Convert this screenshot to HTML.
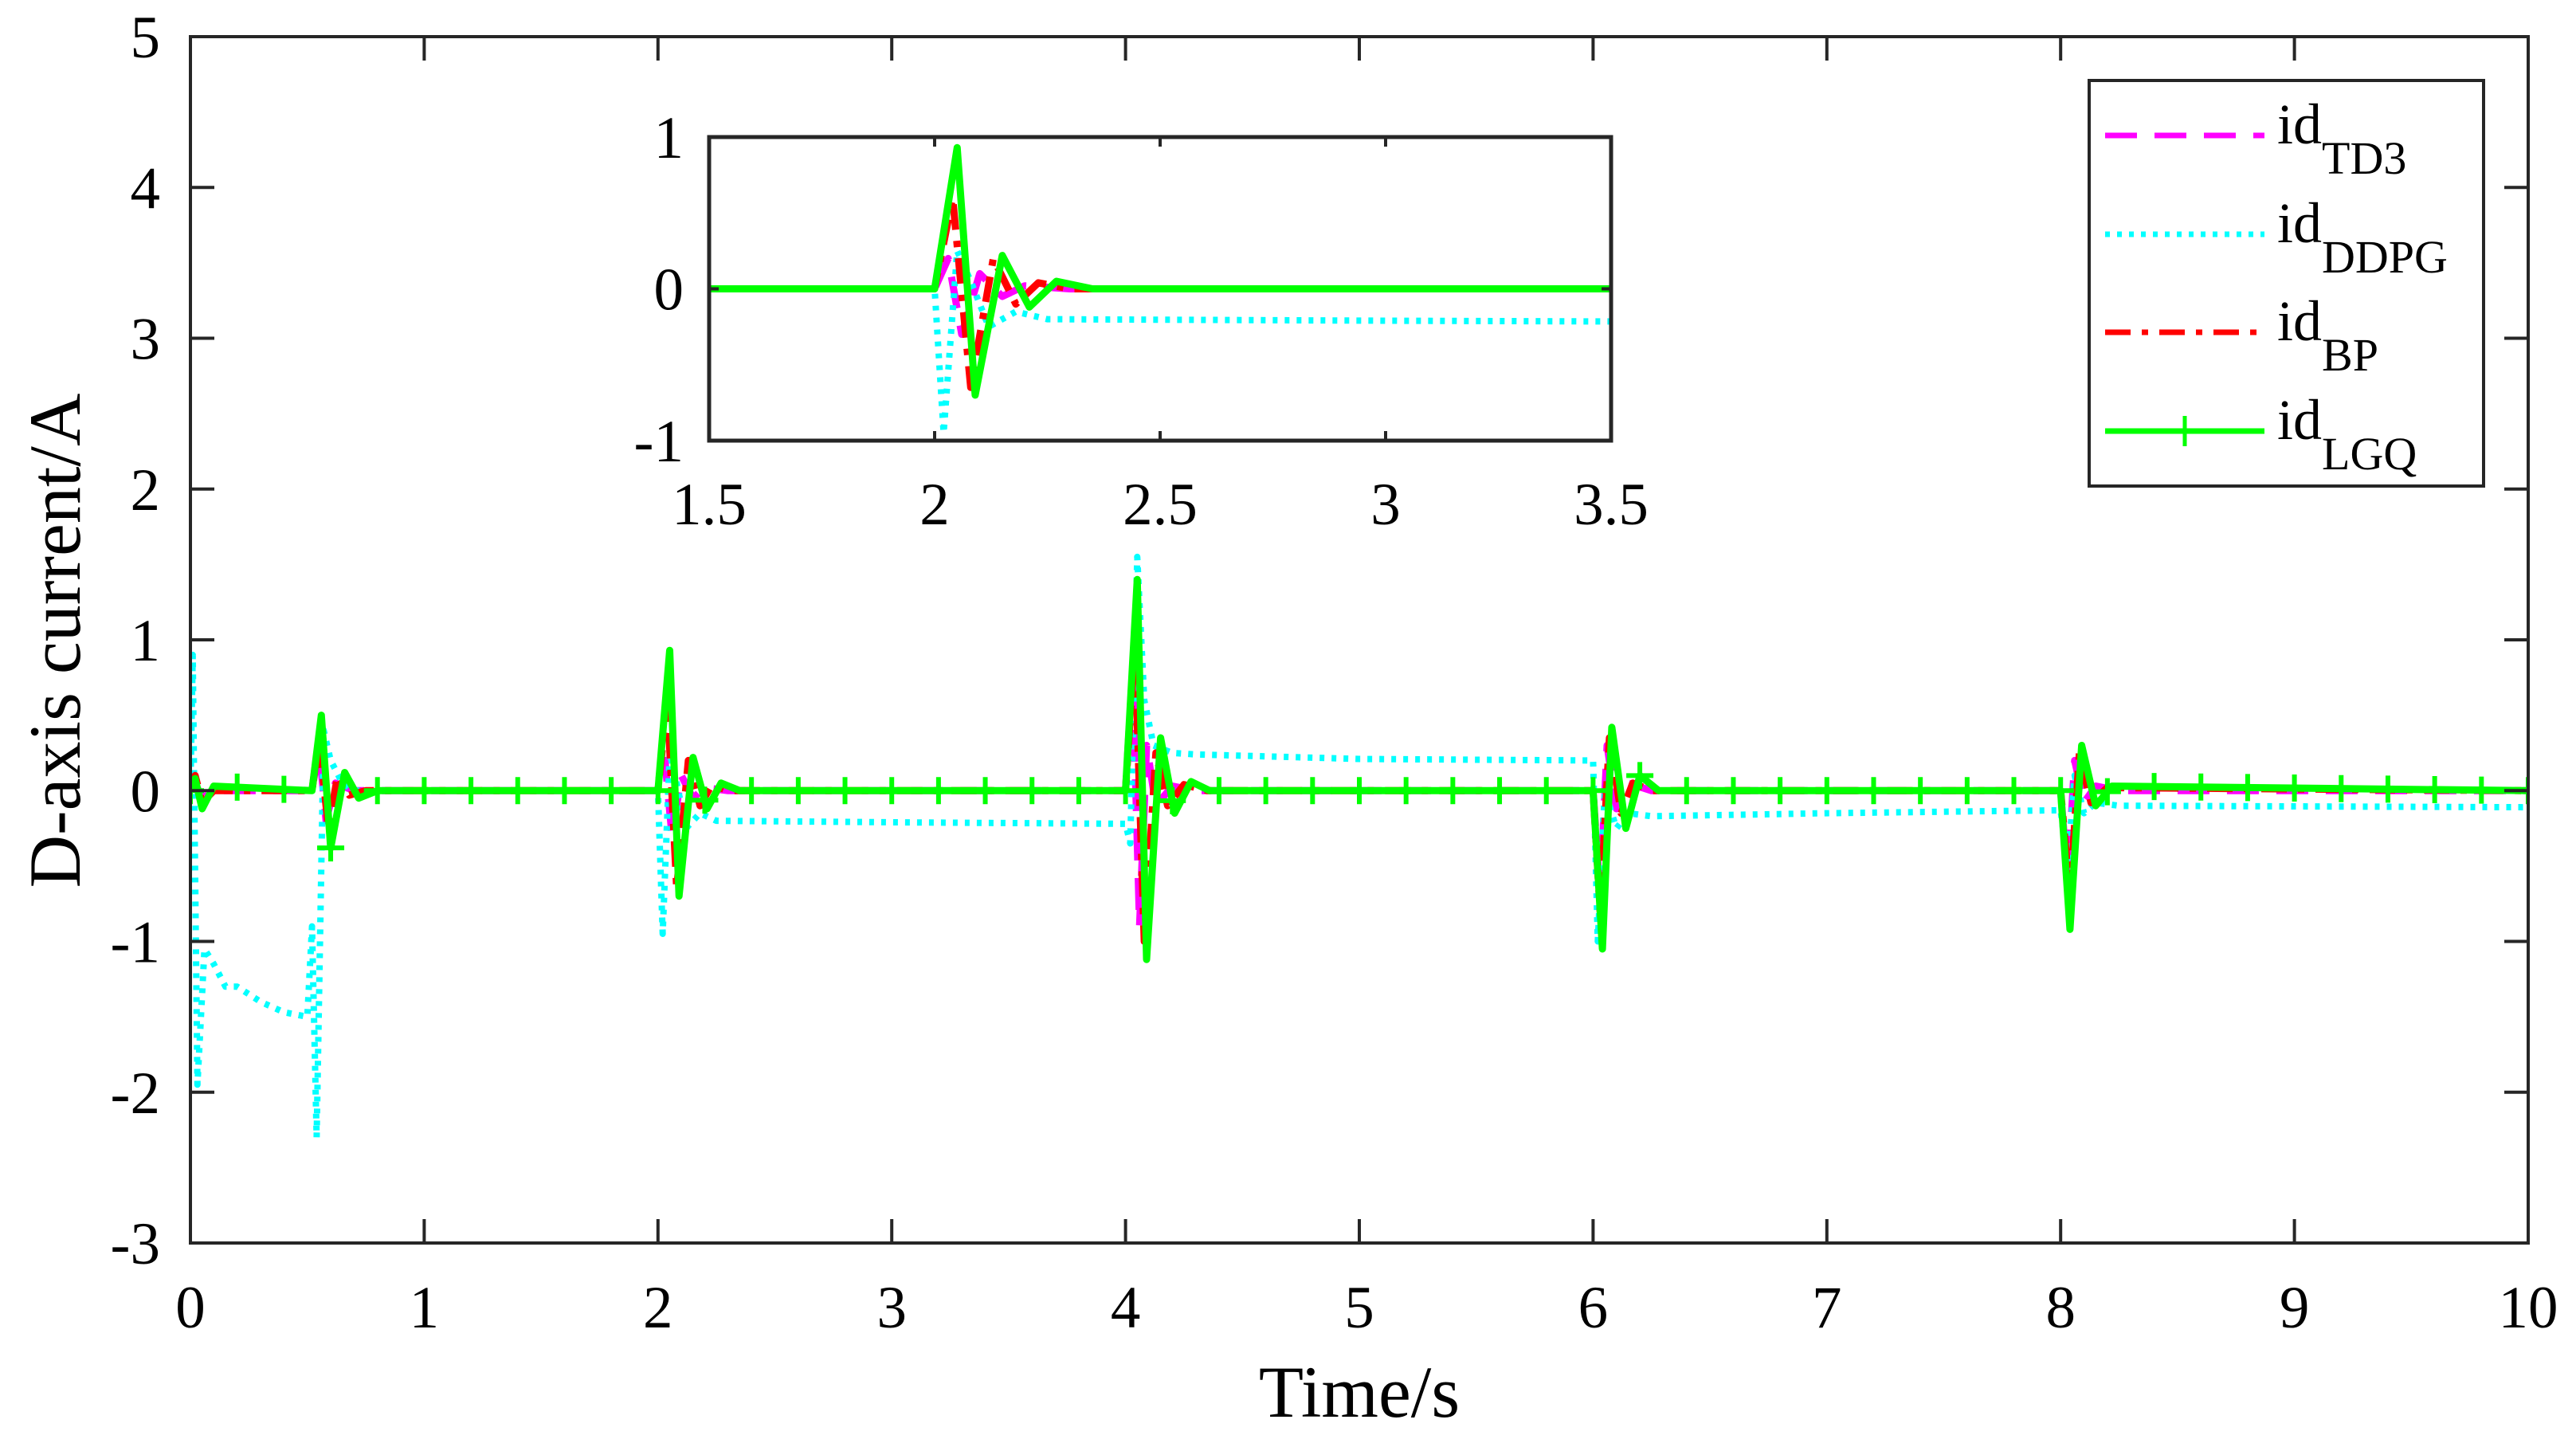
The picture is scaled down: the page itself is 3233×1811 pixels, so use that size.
<!DOCTYPE html>
<html><head><meta charset="utf-8"><style>
html,body{margin:0;padding:0;background:#fff;}
svg{display:block;}
text{font-family:"Liberation Serif",serif;}
</style></head><body>
<svg id="chart" width="3233" height="1811" viewBox="0 0 3233 1811" xmlns="http://www.w3.org/2000/svg" font-family="Liberation Serif, serif">
<rect width="3233" height="1811" fill="#fff"/>
<defs>
<clipPath id="mainClip"><rect x="239" y="46" width="2934" height="1514"/></clipPath>
<clipPath id="insetClip"><rect x="890" y="172" width="1132" height="381"/></clipPath>
</defs>
<g id="main"></g>
<g id="inset"></g>
<g id="legend"></g>
<text x="1706" y="1778" font-size="92" text-anchor="middle" fill="#000" style="font-family:'Liberation Serif',serif">Time/s</text>
<text transform="translate(100,804) rotate(-90)" font-size="92" text-anchor="middle" fill="#000" style="font-family:'Liberation Serif',serif">D-axis current/A</text>
</svg>
<script>
// ---- data (time in s, current in A) ----
const xTicks = [0,1,2,3,4,5,6,7,8,9,10];
const yTicks = [-3,-2,-1,0,1,2,3,4,5];
const insetXTicks = [1.5,2,2.5,3,3.5];
const insetYTicks = [-1,0,1];
const insetXLabels = ["1.5","2","2.5","3","3.5"];
const seriesNames = ["TD3","DDPG","BP","LGQ"];

const tTD3 = [0,0.02,0.05,0.1,0.52,0.55,0.58,0.62,0.7,2.0,2.03,2.06,2.1,2.15,2.2,2.3,4.0,4.03,4.06,4.09,4.13,4.2,4.3,6.0,6.03,6.06,6.1,6.15,6.25,8.0,8.03,8.06,8.1,8.15,8.25,10];
const vTD3 = [0,0.05,-0.05,0,0,0.3,-0.2,0.05,0,0,0.2,-0.3,0.1,-0.05,0.02,0,0,0.8,-0.9,0.3,-0.1,0.03,0,0,-0.7,0.3,-0.12,0.05,0,0,-0.6,0.2,-0.08,0.03,0,0];

const tDDPG = [0,0.01,0.03,0.06,0.1,0.15,0.2,0.3,0.4,0.5,0.52,0.54,0.57,0.6,0.65,0.7,0.8,2.0,2.02,2.05,2.08,2.12,2.18,2.25,3.0,4.0,4.02,4.05,4.08,4.12,4.2,4.3,5.0,6.0,6.02,6.05,6.1,6.15,6.25,7.0,8.0,8.03,8.06,8.1,8.15,8.25,10];
const vDDPG = [0,0.9,-1.95,-1.05,-1.15,-1.3,-1.3,-1.4,-1.47,-1.5,-0.9,-2.3,0.4,0.2,0.05,0,0,0,-0.95,0.25,0.05,-0.25,-0.15,-0.2,-0.21,-0.22,-0.35,1.55,0.6,0.3,0.25,0.24,0.21,0.2,-1.0,0.0,-0.25,-0.15,-0.17,-0.15,-0.13,-0.5,0.1,-0.15,-0.08,-0.1,-0.11];

const tBP = [0,0.02,0.05,0.1,0.52,0.55,0.59,0.63,0.68,0.75,2.0,2.04,2.08,2.13,2.18,2.23,2.3,4.0,4.04,4.08,4.13,4.18,4.25,4.35,6.0,6.03,6.07,6.12,6.17,6.25,8.0,8.04,8.08,8.13,8.2,10];
const vBP = [0,0.1,-0.08,0,0,0.35,-0.25,0.1,-0.03,0,0,0.6,-0.65,0.2,-0.1,0.04,0,0,0.95,-1.0,0.25,-0.1,0.04,0,0,-0.8,0.35,-0.15,0.05,0,0,-0.7,0.25,-0.08,0.02,0];

const tLGQ = [0,0.02,0.05,0.1,0.52,0.56,0.6,0.66,0.72,0.8,2.0,2.05,2.09,2.15,2.21,2.27,2.35,4.0,4.05,4.09,4.15,4.21,4.28,4.36,6.0,6.04,6.08,6.14,6.2,6.28,8.0,8.04,8.09,8.15,8.22,10];
const vLGQ = [0,0.08,-0.12,0.03,0,0.5,-0.38,0.12,-0.05,0,0,0.93,-0.7,0.22,-0.12,0.05,0,0,1.4,-1.12,0.35,-0.15,0.06,0,0,-1.05,0.42,-0.25,0.1,0,0,-0.92,0.3,-0.1,0.03,0];
</script>
<script>
const NS="http://www.w3.org/2000/svg";
const FONT="font-family:'Liberation Serif',serif";
function mk(tag, attrs, parent){const e=document.createElementNS(NS,tag);for(const k in attrs)e.setAttribute(k,attrs[k]);parent.appendChild(e);return e;}
const AX="#262626";
const mx=t=>239+t*293.4;
const my=v=>46+(5-v)*189.25;
const ix=t=>890+(t-1.5)*566;
const iy=v=>362.5-v*190.5;

const styles=[
 {t:tTD3,v:vTD3,color:"#ff00ff",dash:"40 22",w:9,name:"series-td3"},
 {t:tDDPG,v:vDDPG,color:"#00ffff",dash:"6 9",w:8,name:"series-ddpg"},
 {t:tBP,v:vBP,color:"#ff0000",dash:"32 14 8 14",w:9,name:"series-bp"},
 {t:tLGQ,v:vLGQ,color:"#00ff00",dash:"",w:9,name:"series-lgq"}
];
function interp(ts,vs,t){for(let i=1;i<ts.length;i++){if(t<=ts[i]){const f=(t-ts[i-1])/(ts[i]-ts[i-1]);return vs[i-1]+f*(vs[i]-vs[i-1]);}}return vs[vs.length-1];}

function drawSeries(g,X,Y,clip,prefix,mlen){
 const sg=mk("g",{"clip-path":"url(#"+clip+")"},g);
 styles.forEach(s=>{
  const d=s.t.map((t,i)=>(i?"L":"M")+X(t).toFixed(1)+","+Y(s.v[i]).toFixed(1)).join("");
  const p=mk("path",{d:d,fill:"none",stroke:s.color,"stroke-width":s.w,"stroke-dasharray":s.dash,"stroke-linejoin":"round"},sg);
  
  
 });
 const lg=styles[3];
 for(let k=0;k<=50;k++){
  const t=k*0.2, v=interp(lg.t,lg.v,t);
  const cx=X(t), cy=Y(v);
  const m=mk("path",{d:`M${cx},${cy-mlen}V${cy+mlen}M${cx-mlen},${cy}H${cx+mlen}`,stroke:lg.color,"stroke-width":6,fill:"none"},sg);
  
  
 }
}

const main=document.getElementById("main");
drawSeries(main,mx,my,"mainClip","main-",17);
mk("rect",{x:239,y:46,width:2934,height:1514,fill:"none",stroke:AX,"stroke-width":4},main);
xTicks.forEach(t=>{
 const x=mx(t);
 mk("path",{d:`M${x},1560V1530M${x},46V76`,stroke:AX,"stroke-width":4},main);
 const tx=mk("text",{x:x,y:1666,"font-size":75,"text-anchor":"middle",fill:"#000",style:FONT},main);
 tx.textContent=t;
 
 
});
yTicks.forEach(v=>{
 const y=my(v);
 mk("path",{d:`M239,${y}H269M3173,${y}H3143`,stroke:AX,"stroke-width":4},main);
 const tx=mk("text",{x:201,y:y+26,"font-size":75,"text-anchor":"end",fill:"#000",style:FONT},main);
 tx.textContent=v;
 
 
});

const inset=document.getElementById("inset");


mk("rect",{x:890,y:172,width:1132,height:381,fill:"#fff"},inset);
drawSeries(inset,ix,iy,"insetClip","inset-",0);
mk("rect",{x:890,y:172,width:1132,height:381,fill:"none",stroke:AX,"stroke-width":5},inset);
insetXTicks.forEach((t,i)=>{
 const x=ix(t);
 mk("path",{d:`M${x},553V541M${x},172V184`,stroke:AX,"stroke-width":4},inset);
 const tx=mk("text",{x:x,y:658,"font-size":75,"text-anchor":"middle",fill:"#000",style:FONT},inset);
 tx.textContent=insetXLabels[i];
 
 
});
insetYTicks.forEach(v=>{
 const y=iy(v);
 mk("path",{d:`M890,${y}H902M2022,${y}H2010`,stroke:AX,"stroke-width":4},inset);
 const tx=mk("text",{x:858,y:y+26,"font-size":75,"text-anchor":"end",fill:"#000",style:FONT},inset);
 tx.textContent=v;
 
 
});

const leg=document.getElementById("legend");


mk("rect",{x:2622,y:101,width:495,height:509,fill:"#fff",stroke:AX,"stroke-width":4},leg);
const rowY=[170,294,417,541];
styles.forEach((s,i)=>{
 const y=rowY[i];
 const e=mk("g",{},leg);
 
 
 mk("path",{d:`M2642,${y}H2842`,stroke:s.color,"stroke-width":7,"stroke-dasharray":s.dash,fill:"none"},e);
 if(i===3) mk("path",{d:`M2742,${y-19}V${y+19}`,stroke:s.color,"stroke-width":5},e);
 const tx=mk("text",{x:2858,y:y+10,"font-size":72,fill:"#000",style:FONT},e);
 tx.textContent="id";
 const sub=mk("tspan",{dy:38,"font-size":58,style:FONT},tx);
 sub.textContent=seriesNames[i];
});
</script>
</body></html>
